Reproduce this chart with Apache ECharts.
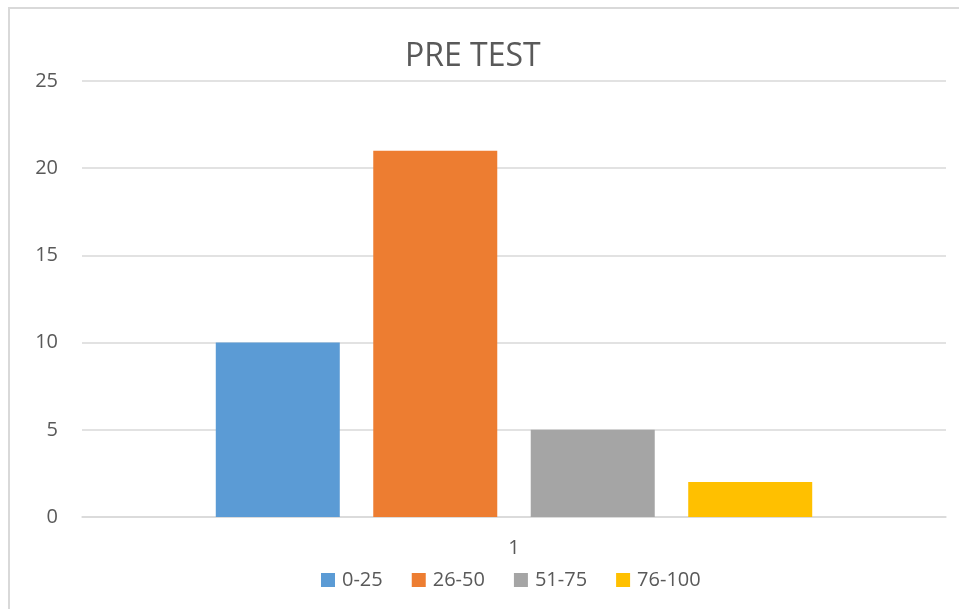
<!DOCTYPE html>
<html>
<head>
<meta charset="utf-8">
<script src="https://cdn.jsdelivr.net/npm/echarts@6/dist/echarts.min.js"></script>
<style>
  html, body { margin: 0; padding: 0; background: #fff; }
  #frame {
    position: absolute; left: 8px; top: 7px; width: 960px; height: 610px;
    border-left: 2px solid #d9d9d9; border-top: 2px solid #d9d9d9;
  }
  #chart { position: absolute; left: 0; top: 0; width: 959px; height: 609px; }
</style>
</head>
<body>
<div id="frame"></div>
<div id="chart"></div>
<script>
// chart data
var categories = ['1']
var seriesNames = ['0-25', '26-50', '51-75', '76-100']
var seriesValues = [[10], [21], [5], [2]]
var colors = ['#5b9bd5', '#ed7d31', '#a5a5a5', '#ffc000']

var font = '"Open Sans", "Liberation Sans", sans-serif'

var series = seriesNames.map(function (name, i) {
  return {
    name: name,
    type: 'bar',
    barWidth: 124,
    barGap: '27%',
    itemStyle: { color: colors[i] },
    data: seriesValues[i]
  }
})

var chart = echarts.init(document.getElementById('chart'))
chart.setOption({
  animation: false,
  title: {
    text: 'PRE TEST',
    left: 400,
    top: 36,
    textStyle: { fontFamily: font, fontSize: 32, fontWeight: 'normal', color: '#595959' }
  },
  legend: {
    bottom: 14,
    left: 316,
    itemWidth: 14,
    itemHeight: 14,
    itemGap: 29,
    icon: 'rect',
    textStyle: { fontFamily: font, fontSize: 20, color: '#595959', padding: [0, 0, 0, 2] },
    data: seriesNames
  },
  grid: { left: 82, right: 13, top: 81, bottom: 92 },
  xAxis: {
    type: 'category',
    data: categories,
    axisLine: { lineStyle: { color: '#d9d9d9', width: 1.5 } },
    axisTick: { show: false },
    axisLabel: { margin: 21, fontFamily: font, fontSize: 20, color: '#595959' }
  },
  yAxis: {
    type: 'value',
    min: 0,
    max: 25,
    interval: 5,
    axisLine: { show: false },
    axisTick: { show: false },
    axisLabel: { margin: 24, fontFamily: font, fontSize: 20, color: '#595959' },
    splitLine: { lineStyle: { color: '#d9d9d9', width: 1.5 } }
  },
  series: series
})
</script>
</body>
</html>
